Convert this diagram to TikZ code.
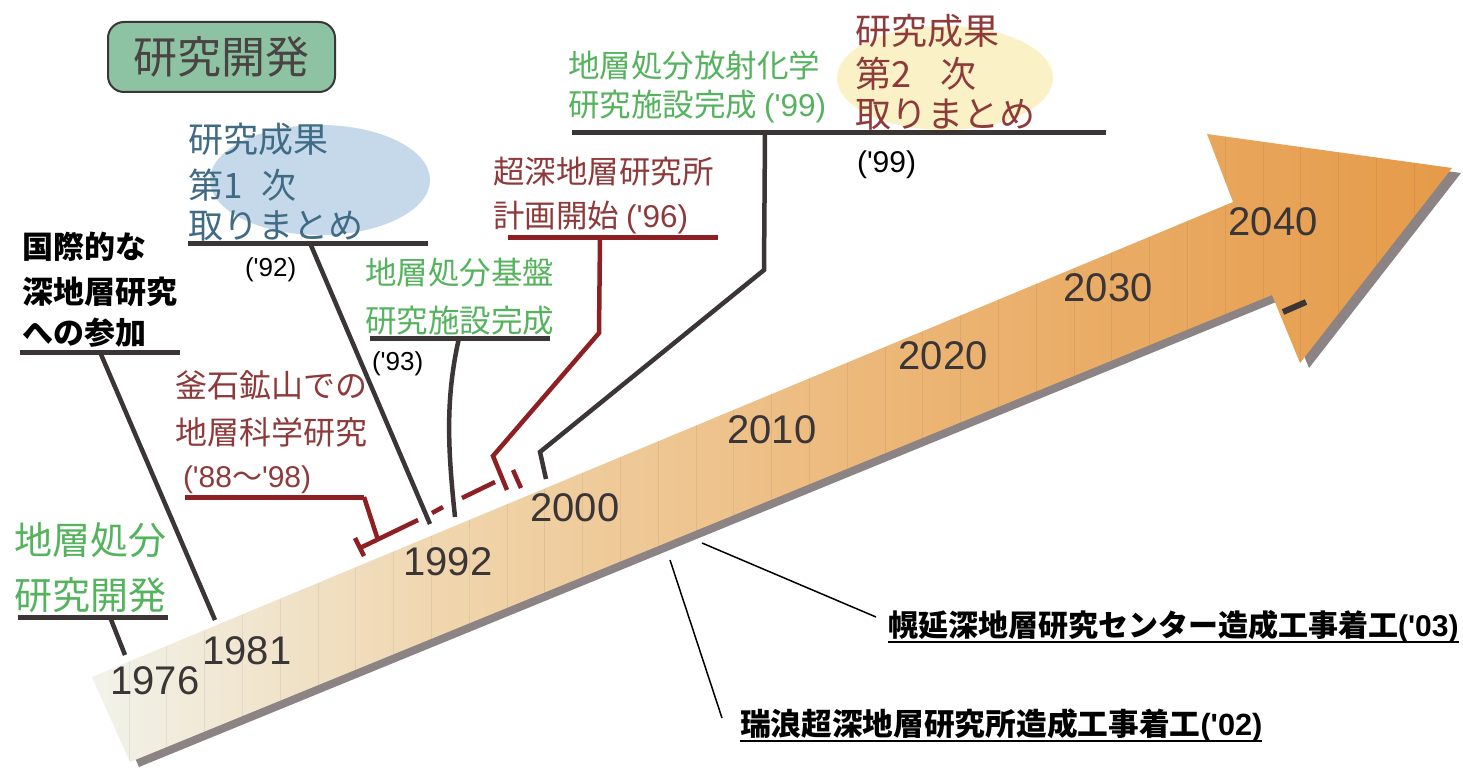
\documentclass[tikz,border=0pt]{standalone}
\usepackage{fontspec}
\setmainfont{Noto Sans CJK JP}
\newfontfamily\lat{Liberation Sans}
\definecolor{darkline}{HTML}{3B3536}
\definecolor{redline}{HTML}{8E1F22}
\definecolor{greent}{HTML}{55B35E}
\definecolor{redt}{HTML}{8E3A3A}
\definecolor{bluet}{HTML}{3F6B84}
\definecolor{yearc}{HTML}{3A3536}
\definecolor{shadowc}{HTML}{8C8385}
\definecolor{bluefill}{HTML}{C6D9EA}
\definecolor{yellowfill}{HTML}{FAF2C6}
\definecolor{boxfill}{HTML}{8DC2A2}
\definecolor{boxtext}{HTML}{4A4343}
\definecolor{ca}{HTML}{F1F3EB}
\definecolor{cb}{HTML}{F0D5AC}
\definecolor{cc}{HTML}{ECB676}
\definecolor{cd}{HTML}{E59A48}
\begin{document}
\begin{tikzpicture}[x=1pt,y=-1pt,
  conn/.style={draw=darkline, line width=4.5pt},
  redconn/.style={draw=redline, line width=4.5pt},
  uline/.style={draw=darkline, line width=5pt},
  redul/.style={draw=redline, line width=5pt},
  thinconn/.style={draw=black, line width=1.5pt},
  lbl/.style={anchor=base west, inner sep=0pt, outer sep=0pt},
  yr/.style={anchor=center, inner sep=0pt, text=yearc, font=\lat\fontsize{40}{40}\selectfont},
  fa/.style={font=\fontsize{35}{40}\selectfont},
  fb/.style={font=\fontsize{36}{40}\selectfont},
  fc/.style={font=\fontsize{31.5}{36}\selectfont},
]
\useasboundingbox (0,0) rectangle (1463,770);
\fill[white] (0,0) rectangle (1463,770);

% ---- arrow shadow ----
\fill[shadowc] (101,682) -- (1242,207) -- (1216,139) -- (1461,173) -- (1309,368) -- (1281,300) -- (139,767) -- cycle;
% ---- arrow body ----
\begin{scope}
\clip (92,677) -- (1233,202) -- (1207,134) -- (1452,168) -- (1300,363) -- (1272,295) -- (130,762) -- cycle;
\shade[left color=ca, right color=cb] (88,120) rectangle (450,770);
\shade[left color=cb, right color=cc] (449.5,120) rectangle (900,770);
\shade[left color=cc, right color=cd] (899.5,120) rectangle (1460,770);
\foreach \i in {0,...,35} \draw[black, opacity=.06, line width=1pt] ({129+37.8*\i},100) -- ++(0,680);
\end{scope}
\draw[darkline, line width=6pt] (1283,312) -- (1306,302);

% ---- years ----
\node[yr] (y1976) at (155,681) {1976};
\node[yr] (y1981) at (247,651) {1981};
\node[yr] (y1992) at (448,562) {1992};
\node[yr] (y2000) at (575,508) {2000};
\node[yr] (y2010) at (772,430) {2010};
\node[yr] (y2020) at (943,356) {2020};
\node[yr] (y2030) at (1108,288) {2030};
\node[yr] (y2040) at (1273,222) {2040};

% ---- title box ----
\node[draw=darkline, line width=2pt, fill=boxfill, rounded corners=16pt, minimum width=227pt, minimum height=70pt, inner sep=0pt, text=boxtext, font=\fontsize{44}{48}\selectfont] (title) at (221.5,57) {研究開発};

% ---- ellipses ----
\fill[bluefill] (320,180) ellipse [x radius=110, y radius=55];
\fill[yellowfill] (945,78) ellipse [x radius=108, y radius=52];

% ---- 研究成果 第1次 ----
\node[lbl, fa, text=bluet] (b1) at (188,153) {研究成果};
\node[lbl, fa, text=bluet] (b2) at (188,198) {第1\hspace{19pt}次};
\node[lbl, fa, text=bluet] (b3) at (188,238) {取りまとめ};
\coordinate (u3l) at (188,243); \coordinate (u3r) at (428,243);
\draw[uline] (u3l) -- (u3r);
\node[lbl, text=black, font=\lat\fontsize{26}{30}\selectfont] (p92) at (245,276) {('92)};

% ---- 研究成果 第2次 ----
\node[lbl, fb, text=redt] (c1) at (855,45) {研究成果};
\node[lbl, fb, text=redt] (c2) at (855,88) {第2\hspace{30pt}次};
\node[lbl, fb, text=redt] (c3) at (855,128) {取りまとめ};
\node[lbl, text=black, font=\lat\fontsize{30}{34}\selectfont] (p99) at (857,172) {('99)};

% ---- 地層処分放射化学 ----
\node[lbl, fc, text=greent] (g1) at (568,78) {地層処分放射化学};
\node[lbl, fc, text=greent] (g2) at (568,117) {研究施設完成 {\lat ('99)}};
\coordinate (u5l) at (572,133); \coordinate (u5r) at (1106,133);
\draw[uline] (u5l) -- (u5r);

% ---- 超深地層研究所 ----
\node[lbl, fc, text=redt] (s1) at (493,184) {超深地層研究所};
\node[lbl, fc, text=redt] (s2) at (493,227) {計画開始 {\lat ('96)}};
\coordinate (u6l) at (508,237); \coordinate (u6r) at (718,237);
\draw[redul] (u6l) -- (u6r);

% ---- 地層処分基盤 ----
\node[lbl, fc, text=greent] (k1) at (365,284) {地層処分基盤};
\node[lbl, fc, text=greent] (k2) at (365,332) {研究施設完成};
\coordinate (u4l) at (370,338); \coordinate (u4r) at (550,338);
\draw[uline] (u4l) -- (u4r);
\node[lbl, text=black, font=\lat\fontsize{26}{30}\selectfont] (p93) at (372,370) {('93)};

% ---- 釜石 ----
\node[lbl, text=redt, font=\fontsize{32}{36}\selectfont] (m1) at (175,397) {釜石鉱山での};
\node[lbl, text=redt, font=\fontsize{32}{36}\selectfont] (m2) at (175,444) {地層科学研究};
\node[lbl, text=redt, font=\fontsize{30}{34}\selectfont] (m3) at (183,487) {{\lat ('88}〜{\lat '98)}};
\coordinate (u7l) at (185,497); \coordinate (u7r) at (364,497);
\draw[redul] (u7l) -- (u7r);

% ---- 国際的な ----
\node[lbl, text=black, font=\bfseries\fontsize{31}{35}\selectfont] (i1) at (22,258) {国際的な};
\node[lbl, text=black, font=\bfseries\fontsize{31}{35}\selectfont] (i2) at (22,303) {深地層研究};
\node[lbl, text=black, font=\bfseries\fontsize{31}{35}\selectfont] (i3) at (22,344) {への参加};
\coordinate (u1l) at (20,352); \coordinate (u1r) at (180,352);
\draw[uline] (u1l) -- (u1r);

% ---- 地層処分 研究開発 ----
\node[lbl, text=greent, font=\fontsize{38}{42}\selectfont] (d1) at (14,554) {地層処分};
\node[lbl, text=greent, font=\fontsize{38}{42}\selectfont] (d2) at (14,609) {研究開発};
\coordinate (u2l) at (18,617); \coordinate (u2r) at (168,617);
\draw[uline] (u2l) -- (u2r);

% ---- bottom labels ----
\node[lbl, text=black, font=\bfseries\fontsize{30}{34}\selectfont] (hor) at (888,636) {幌延深地層研究センター造成工事着工{\lat ('03)}};
\draw[black, line width=2.5pt] ([yshift=-6pt]hor.base west) -- ([yshift=-6pt]hor.base east);
\node[lbl, text=black, font=\bfseries\fontsize{30.7}{34}\selectfont] (miz) at (740,735) {瑞浪超深地層研究所造成工事着工{\lat ('02)}};
\draw[black, line width=2.5pt] ([yshift=-6pt]miz.base west) -- ([yshift=-6pt]miz.base east);

% ---- connectors ----
\coordinate (c1a) at (100,352); \coordinate (c1b) at (215,620);
\draw[conn] (c1a) -- (c1b);
\coordinate (c2a) at (110,617); \coordinate (c2b) at (125,655);
\draw[conn] (c2a) -- (c2b);
\coordinate (c3a) at (310,243); \coordinate (c3b) at (430,524);
\draw[conn] (c3a) -- (c3b);
\coordinate (c4a) at (459,338); \coordinate (c4b) at (455,517);
\draw[conn] (c4a) .. controls (445,400) and (448,450) .. (c4b);
\coordinate (c5a) at (765,133); \coordinate (c5m) at (764,270); \coordinate (c5n) at (540,452); \coordinate (c5b) at (546,479);
\draw[conn] (c5a) -- (c5m) -- (c5n) -- (c5b);

\coordinate (r1a) at (600,237); \coordinate (r1m) at (599,333); \coordinate (r1n) at (493,456); \coordinate (r1b) at (507,490);
\draw[redconn] (r1a) -- (r1m) -- (r1n) -- (r1b);
\coordinate (rt1) at (513,470); \coordinate (rt2) at (521,488);
\draw[redconn] (rt1) -- (rt2);
% 釜石 bracket and period line
\coordinate (rd) at (378,540);
\draw[redconn] (u7r) -- (rd);
\coordinate (rl0) at (360,548); \coordinate (rl1) at (418,520);
\coordinate (rl2) at (432,513); \coordinate (rl3) at (443,507);
\coordinate (rl4) at (462,498); \coordinate (rl5) at (495,482);
\draw[redconn] (rl0) -- (rl1);
\draw[redconn] (rl2) -- (rl3);
\draw[redconn] (rl4) -- (rl5);
\coordinate (tk1) at (355,538); \coordinate (tk2) at (364,556);
\draw[redconn] (tk1) -- (tk2);

\coordinate (h1) at (702,543); \coordinate (h2) at (876,617);
\draw[thinconn] (h1) -- (h2);
\coordinate (z1) at (670,560); \coordinate (z2) at (722,718);
\draw[thinconn] (z1) -- (z2);
\end{tikzpicture}
\end{document}
